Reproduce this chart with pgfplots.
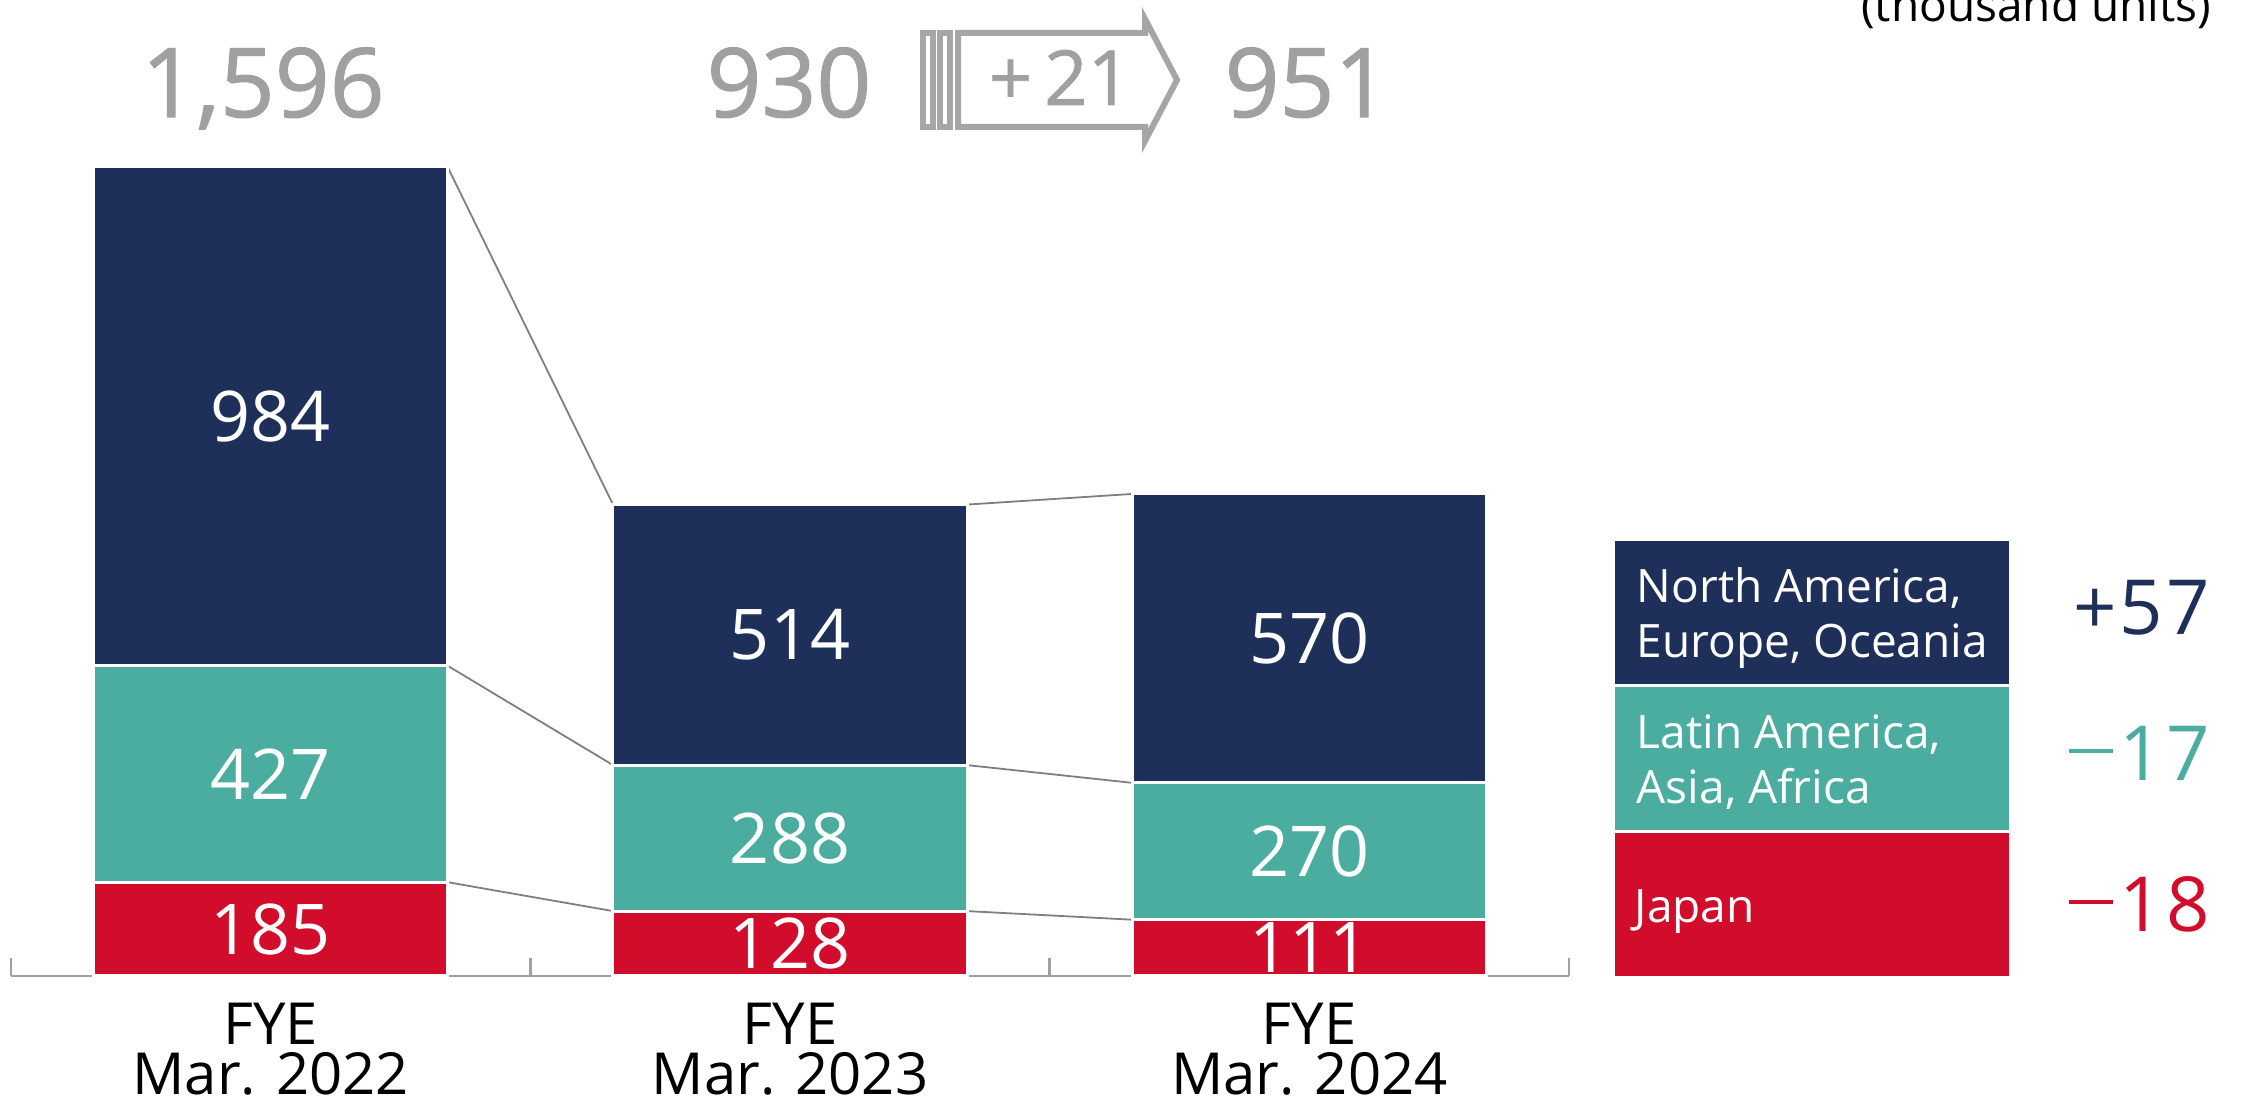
\documentclass[border=0pt]{standalone}
\usepackage{fontspec}
\setmainfont{Open Sans}
\usepackage{pgfplots}
\pgfplotsset{compat=1.18}
\definecolor{cNA}{HTML}{1E2F5A}
\definecolor{cLA}{HTML}{4AAD9F}
\definecolor{cJP}{HTML}{D20C2B}
\definecolor{cTxt}{HTML}{A0A0A0}
\definecolor{cArr}{HTML}{A6A6A6}
\definecolor{cAxis}{HTML}{A0A0A0}
\definecolor{cConn}{HTML}{7F7F7F}
\pgfplotsset{base/.style={at={(2.75pt,30.5pt)}, anchor=south west, scale only axis,
  width=389.5pt, height=244pt, xmin=-0.5, xmax=2.5, ymin=0, ymax=1925.5,
  enlargelimits=false, clip=false}}
\tikzset{
  bl/.style={text=white, font=\fontsize{17.5}{17.5}\selectfont, inner sep=0pt, anchor=center},
  tot/.style={anchor=base, text=cTxt, font=\fontsize{24}{24}\selectfont\addfontfeature{FakeBold=1.2}, inner sep=0pt},
  lg/.style={anchor=base west, inner sep=0pt, text=white, font=\fontsize{11.5}{11.5}\selectfont},
  ch/.style={anchor=base east, inner sep=0pt, font=\fontsize{19}{19}\selectfont},
}
\newcommand{\mminus}{\rule[7pt]{11pt}{1pt}\kern1.5pt}
\begin{document}
\begin{tikzpicture}
% connectors between stacks (cumulative totals)
\begin{axis}[base, hide axis]
\addplot[cConn, line width=0.45pt] coordinates {(0.3408,1596) (0.6592,930)};
\addplot[cConn, line width=0.45pt] coordinates {(0.3408,612) (0.6592,416)};
\addplot[cConn, line width=0.45pt] coordinates {(0.3408,185) (0.6592,128)};
\addplot[cConn, line width=0.45pt] coordinates {(1.3408,930) (1.6592,951)};
\addplot[cConn, line width=0.45pt] coordinates {(1.3408,416) (1.6592,381)};
\addplot[cConn, line width=0.45pt] coordinates {(1.3408,128) (1.6592,111)};
\end{axis}
\begin{axis}[base, ybar stacked, bar width=0.6817,
  axis x line*=bottom, axis y line=none, ytick=\empty,
  x axis line style={-, draw=cAxis, line width=0.6pt},
  xtick={-0.5,0.5,1.5,2.5}, xticklabels={,,,}, tick align=inside,
  major tick length=4.5pt, xtick style={draw=cAxis, line width=0.6pt},
  extra x ticks={0,1,2},
  extra x tick labels={{FYE\\Mar. 2022},{FYE\\Mar. 2023},{FYE\\Mar. 2024}},
  extra x tick style={major tick length=0pt},
  xticklabel style={font=\fontsize{14.5}{12.5}\selectfont, align=center,
    inner sep=0pt, anchor=north, yshift=-6.6pt, text=black},
]
\addplot[fill=cJP, draw=white, line width=0.75pt] coordinates {(0,185) (1,128) (2,111)};
\addplot[fill=cLA, draw=white, line width=0.75pt] coordinates {(0,427) (1,288) (2,270)};
\addplot[fill=cNA, draw=white, line width=0.75pt] coordinates {(0,984) (1,514) (2,570)};
\end{axis}
% segment values
\begin{axis}[base, hide axis]
\node[bl] at (axis cs:0,92.5) {185};
\node[bl] at (axis cs:0,398.5) {427};
\node[bl] at (axis cs:0,1104) {984};
\node[bl] at (axis cs:1,64) {128};
\node[bl] at (axis cs:1,272) {288};
\node[bl] at (axis cs:1,673) {514};
\node[bl] at (axis cs:2,55.5) {111};
\node[bl] at (axis cs:2,246) {270};
\node[bl] at (axis cs:2,666) {570};
\end{axis}
% annotations in pixel coordinates (origin top-left)
\begin{scope}[x=0.25pt, y=-0.25pt, yshift=274.5pt]
\node[tot] at (263,117) {1,596};
\node[tot] at (789,117) {930};
\node[tot] at (1307,117) {951};
% arrow
\draw[cArr, line width=1.5pt] (923,33) rectangle (933,127);
\draw[cArr, line width=1.5pt] (940,33) rectangle (950,127);
\draw[cArr, line width=1.5pt, line join=miter] (958,33) -- (1145,33) -- (1145,19) -- (1177,80)
  -- (1145,141) -- (1145,127) -- (958,127) -- cycle;
\node[anchor=base, text=cTxt, font=\fontsize{19}{19}\selectfont\addfontfeature{FakeBold=1}, inner sep=0pt] at (1060,105) {+\kern3pt21};
% unit
\node[anchor=base east, inner sep=0pt, font=\fontsize{11.5}{11.5}\selectfont] at (2212,22) {(thousand units)};
% legend boxes
\fill[cNA] (1615,541) rectangle (2009,684);
\fill[cLA] (1615,687) rectangle (2009,830);
\fill[cJP] (1615,833) rectangle (2009,976);
\node[lg] at (1636,603) {North America,};
\node[lg] at (1636,658) {Europe, Oceania};
\node[lg] at (1636,749) {Latin America,};
\node[lg] at (1636,804) {Asia, Africa};
\node[lg] at (1634,923) {Japan};
\node[ch, text=cNA] at (2211,635) {+\kern0.5pt5\kern1pt7};
\node[ch, text=cLA] at (2211,781) {\mminus 1\kern1pt7};
\node[ch, text=cJP] at (2211,932) {\mminus 1\kern1pt8};
\end{scope}
\pgfresetboundingbox
\path[use as bounding box] (0,0) rectangle (560.25pt,274.5pt);
\end{tikzpicture}
\end{document}
